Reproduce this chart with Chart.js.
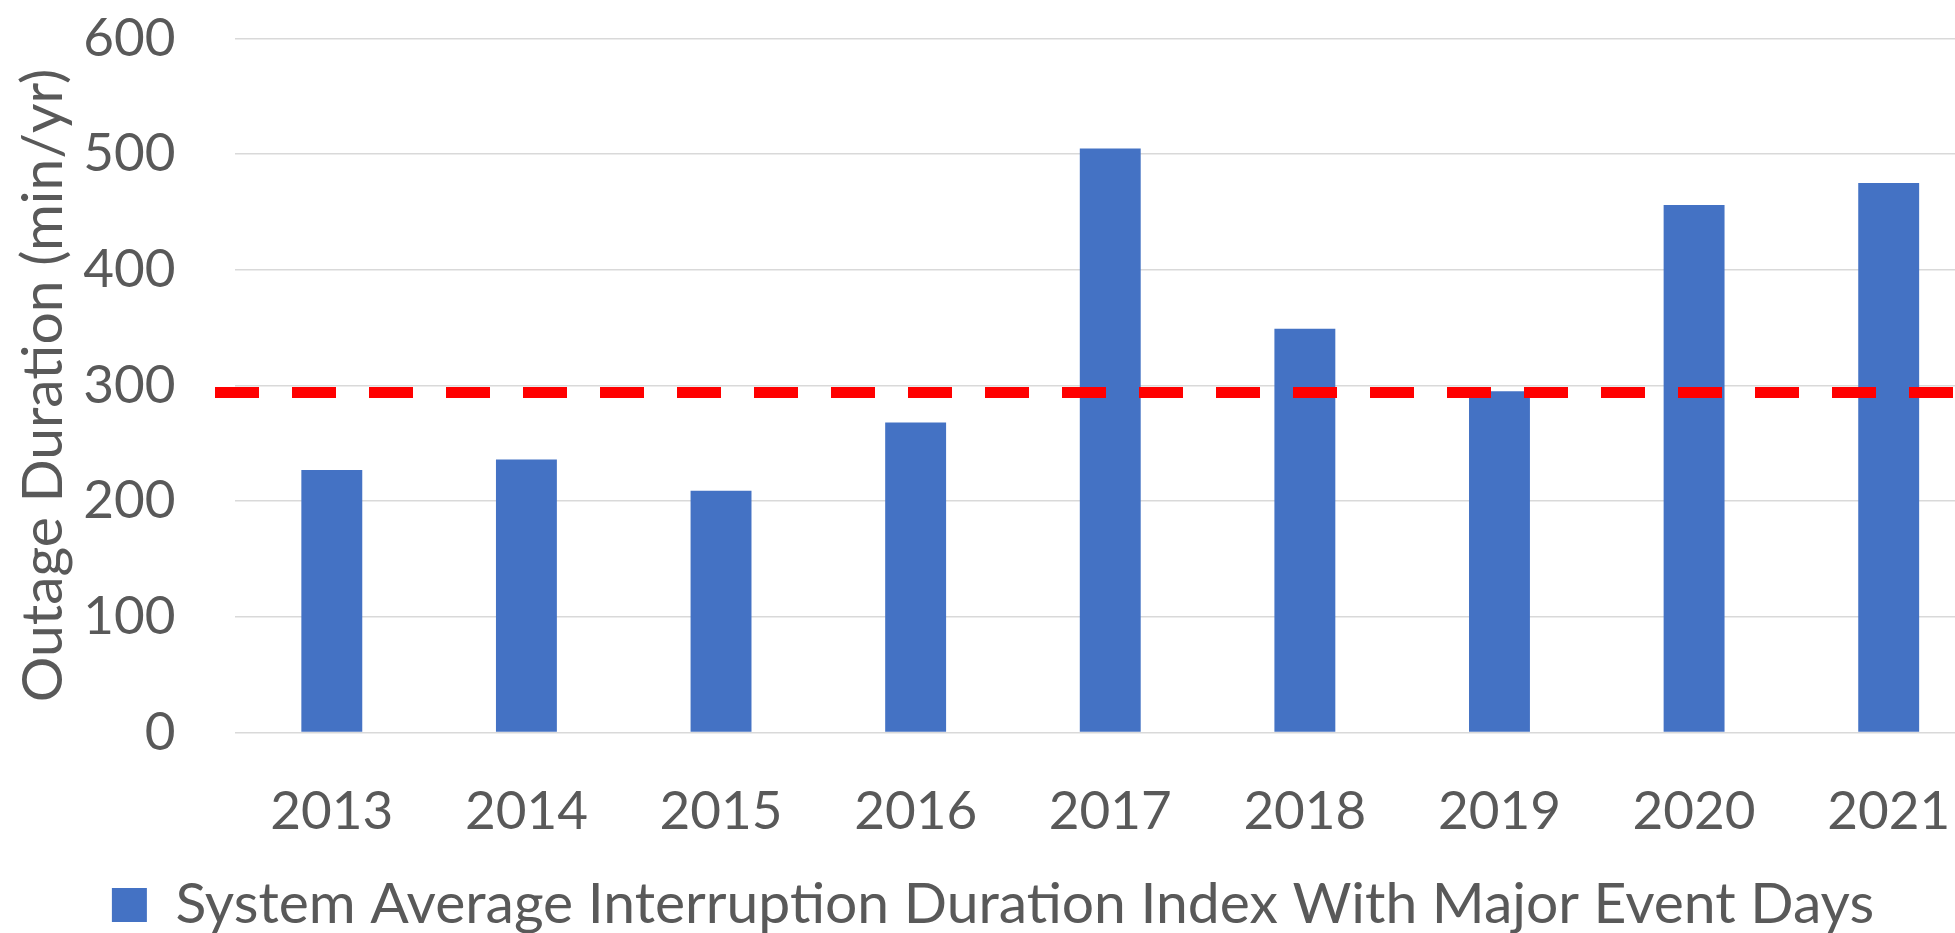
<!DOCTYPE html>
<html>
<head>
<meta charset="utf-8">
<script src="https://cdn.jsdelivr.net/npm/chart.js@4/dist/chart.umd.min.js"></script>
<style>
  html, body { margin: 0; padding: 0; background: #fff; overflow: hidden; }
  #wrap { position: absolute; left: 0; top: 0; width: 1998px; height: 944px; }
</style>
</head>
<body>
<div id="wrap"><canvas id="saidiChart" width="1998" height="944"></canvas></div>
<script>
// Data
const years = ['2013', '2014', '2015', '2016', '2017', '2018', '2019', '2020', '2021'];
const saidiValues = [227, 236, 209, 268, 505, 349, 295, 456, 475];
const thresholdValue = 294;
const yTicks = [0, 100, 200, 300, 400, 500, 600];

const textColor = '#595959';
const fontFamily = 'Lato, "Open Sans", sans-serif';

// Dashed red threshold line, drawn over the bars
const thresholdLine = {
    id: 'thresholdLine',
    afterDatasetsDraw(chart) {
        const { ctx, chartArea, scales } = chart;
        const y = scales.y.getPixelForValue(thresholdValue);
        ctx.save();
        ctx.strokeStyle = '#ff0000';
        ctx.lineWidth = 11;
        ctx.setLineDash([44, 33]);
        ctx.beginPath();
        ctx.moveTo(chartArea.left - 19.5, y);
        ctx.lineTo(chartArea.right, y);
        ctx.stroke();
        ctx.restore();
    }
};

const ctx = document.getElementById('saidiChart').getContext('2d');
new Chart(ctx, {
    type: 'bar',
    data: {
        labels: years,
        datasets: [{
            label: 'System Average Interruption Duration Index With Major Event Days',
            data: saidiValues,
            backgroundColor: '#4472C4',
            borderWidth: 0,
            categoryPercentage: 1,
            barPercentage: 0.313
        }]
    },
    options: {
        responsive: false,
        animation: false,
        devicePixelRatio: 1,
        layout: { padding: { top: 38.5, right: 12, left: 0, bottom: 0.5 } },
        plugins: {
            tooltip: { enabled: false },
            legend: {
                position: 'bottom',
                labels: {
                    boxWidth: 35,
                    boxHeight: 34,
                    padding: 24,
                    color: textColor,
                    font: { family: fontFamily, size: 57 }
                }
            }
        },
        scales: {
            x: {
                grid: { display: false },
                border: { display: false },
                ticks: {
                    color: textColor,
                    font: { family: fontFamily, size: 53 },
                    padding: 40,
                    maxRotation: 0
                },
                afterFit(scale) { scale.height = 120; }
            },
            y: {
                min: 0,
                max: 600,
                afterBuildTicks(scale) { scale.ticks = yTicks.map(v => ({ value: v })); },
                grid: { color: '#d9d9d9', lineWidth: 1.5, drawTicks: false },
                border: { display: false },
                ticks: {
                    color: textColor,
                    font: { family: fontFamily, size: 53 },
                    padding: 59
                },
                title: {
                    display: true,
                    text: 'Outage Duration (min/yr)',
                    color: textColor,
                    font: { family: fontFamily, size: 57 },
                    padding: { top: 9, bottom: 0 }
                },
                afterFit(scale) {
                    scale.width = 234.5;
                    // keep the tick padding from pushing the plot area down
                    scale.paddingTop = 0;
                    scale.paddingBottom = 0;
                }
            }
        }
    },
    plugins: [thresholdLine]
});
</script>
</body>
</html>
